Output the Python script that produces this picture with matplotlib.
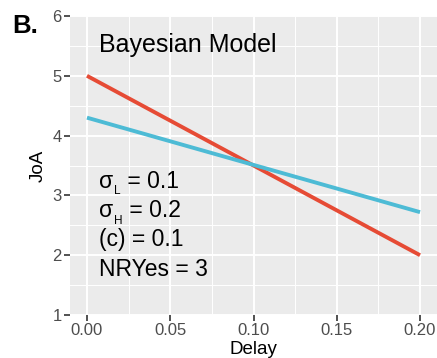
import matplotlib
matplotlib.use("Agg")
import matplotlib.pyplot as plt
from matplotlib.ticker import MultipleLocator

plt.rcParams['font.family'] = ['Liberation Sans', 'DejaVu Sans']

# data
delay = [0.0, 0.2]
joa_red = [5.0, 2.0]
joa_blue = [4.3, 2.72]
# (symbol, subscript, rest)
params = [('σ', 'L', ' = 0.1'), ('σ', 'H', ' = 0.2'), ('(c) = 0.1', '', ''), ('NRYes = 3', '', '')]
x_ticks = [0.0, 0.05, 0.10, 0.15, 0.20]
x_labels = ['0.00', '0.05', '0.10', '0.15', '0.20']
y_ticks = [1, 2, 3, 4, 5, 6]

fig = plt.figure(figsize=(4.37, 3.58), dpi=100)
ax = fig.add_axes([70 / 437, 1 - 315 / 358, 367 / 437, 299 / 358])
ax.set_facecolor('#EBEBEB')

ax.plot(delay, joa_red, color='#E64B35', lw=2.8, solid_capstyle='butt', zorder=3)
ax.plot(delay, joa_blue, color='#4DBBD5', lw=2.8, solid_capstyle='butt', zorder=3)

ax.set_xlim(-0.0102, 0.2102)
ax.set_ylim(1, 6)
ax.set_xticks(x_ticks)
ax.set_xticklabels(x_labels)
ax.set_yticks(y_ticks)
ax.xaxis.set_minor_locator(MultipleLocator(0.025))
ax.yaxis.set_minor_locator(MultipleLocator(0.5))
ax.grid(which='major', color='white', lw=1.4)
ax.grid(which='minor', color='white', lw=0.7)
ax.set_axisbelow(True)
for s in ax.spines.values():
    s.set_visible(False)
ax.tick_params(which='major', length=4, width=1.2, color='#333333',
               labelsize=12, labelcolor='#4D4D4D', pad=2)
ax.tick_params(which='minor', length=0)

ax.set_xlabel('Delay', fontsize=13.5, labelpad=2)
ax.set_ylabel('JoA', fontsize=13.5, labelpad=4)

ax.text(0.0075, 5.52, 'Bayesian Model', fontsize=18, va='center', ha='left')

# parameter block, with ggplot-style lowered subscripts
for i, (sym, sub, rest) in enumerate(params):
    t1 = ax.text(0.0075, 3.13 - i * 0.49, sym, fontsize=16.5, va='baseline', ha='left')
    if sub:
        t2 = ax.annotate(sub, xy=(1, 0), xycoords=t1, xytext=(0.3, -3.4),
                         textcoords='offset points', fontsize=8.5, va='bottom', ha='left')
        ax.annotate(rest, xy=(1, 0), xycoords=(t2, t1), xytext=(0, 0),
                    textcoords='offset points', fontsize=16.5, va='bottom', ha='left')

fig.text(12 / 437, 1 - 33 / 358, 'B.', fontsize=18.5, fontweight='bold', va='baseline', ha='left')

fig.savefig('out.png', dpi=100)
